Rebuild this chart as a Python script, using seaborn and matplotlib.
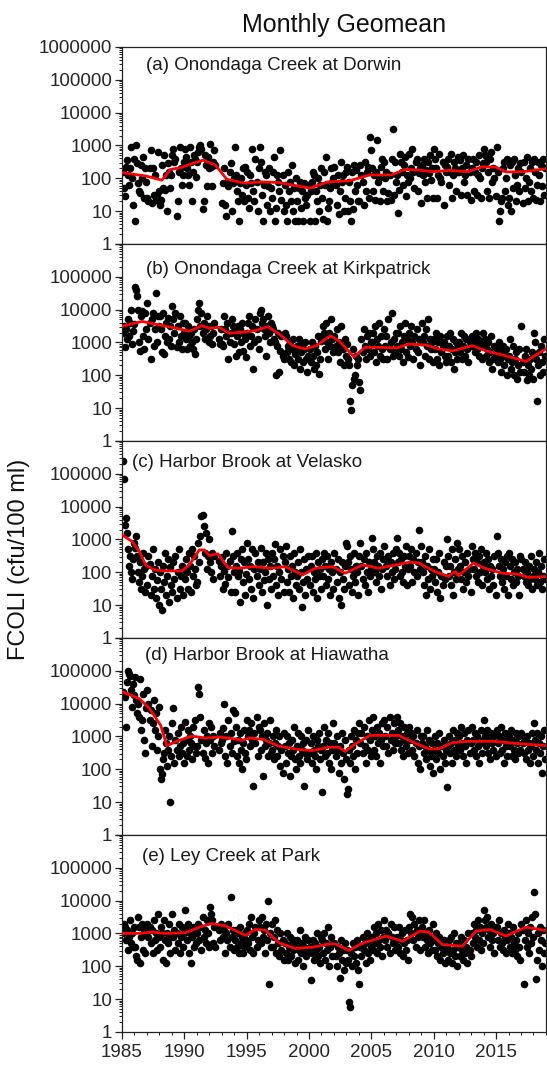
import numpy as np
import pandas as pd
import matplotlib
matplotlib.use("Agg")
import matplotlib.pyplot as plt
import matplotlib.ticker as mticker
import seaborn as sns

nan = float("nan")

# -----------------------------
# DATA (log10 of monthly geomean, cfu/100 ml), 12 values per year 1985-2018
# -----------------------------
years = list(range(1985, 2019))

dorwin = [
    2.2, 1.7, 1.45, 2.35, 2.55, 2.1, 1.8, 2.3, 2.95, 2.0, 1.2, 2.6,
    0.7, 3.0, 2.45, 1.85, 1.6, 1.55, 2.4, 2.0, 2.65, 1.4, 2.3, 1.9,
    1.4, 1.3, 2.3, 2.85, 1.25, 2.3, 1.5, 2.1, 1.35, 1.45, 2.8, 1.6,
    1.2, 1.35, 2.4, 1.7, 2.7, 1.65, 2.1, 1.0, 2.45, 2.2, 1.7, 2.1,
    2.7, 2.9, 2.5, 2.6, 0.85, 1.3, 2.2, 2.95, 2.3, 1.8, 2.1, 2.5,
    2.9, 2.65, 2.3, 2.1, 1.8, 2.95, 2.5, 1.3, 2.2, 2.7, 2.6, 2.05,
    2.5, 2.8, 2.95, 3.0, 2.9, 1.05, 1.3, 2.7, 2.4, 1.75, 2.65, 2.3,
    3.05, 2.35, 1.75, 2.5, 2.85, 2.4, nan, nan, nan, nan, nan, nan,
    1.25, 1.85, 2.3, 1.2, 0.85, 1.9, 1.75, 2.2, 2.45, 1.0, 1.85, 2.0,
    2.95, 2.1, 1.6, 1.3, 0.7, 1.85, 2.0, 1.5, 2.3, 1.3, 2.35, 1.8,
    2.2, 1.4, 1.1, 2.1, 1.85, 2.9, 1.6, 1.3, 2.6, 1.9, 1.0, 2.3,
    2.95, 2.5, 1.5, 0.7, 1.8, 2.2, 2.1, 1.2, 1.75, 2.3, 1.0, 1.7,
    1.4, 2.2, 2.65, 0.7, 1.1, 2.1, 1.9, 1.6, 2.85, 1.35, 2.1, 1.0,
    1.8, 1.2, 0.7, 2.2, 1.6, 1.9, 1.3, 2.4, 1.0, 1.7, 0.7, 2.0,
    1.3, 0.7, 1.7, 1.9, 1.1, 1.6, 0.7, 1.85, 1.4, 1.2, 1.5, 1.8,
    0.7, 1.6, 1.9, 2.2, 2.1, 0.7, 1.6, 1.3, 2.0, 1.0, 1.8, 2.3,
    1.4, 0.75, 2.2, 1.8, 2.65, 0.7, 1.1, 1.3, 1.7, 2.3, 1.9, 2.0,
    2.35, 1.8, 1.2, 2.1, 0.9, 1.6, 2.5, 1.9, 2.1, 1.0, 1.4, 2.2,
    2.35, 1.0, 1.9, 1.3, 0.7, 2.2, 1.05, 2.4, 1.6, 2.25, 1.8, 1.3,
    1.3, 2.4, 2.1, 1.9, 1.2, 2.5, 1.6, 2.2, 2.35, 1.4, 3.25, 2.85,
    2.3, 1.6, 2.1, 1.35, 2.2, 3.15, 1.9, 2.0, 1.3, 2.35, 2.6, 1.6,
    2.5, 2.0, 2.2, 1.3, 1.55, 2.1, 1.35, 2.6, 3.5, 1.5, 2.5, 1.9,
    2.1, 0.95, 1.65, 2.75, 2.5, 2.2, 1.8, 2.4, 2.65, 1.45, 2.1, 1.9,
    2.75, 2.0, 2.3, 2.9, 2.2, 1.7, 2.5, 2.6, 1.6, 2.15, 2.3, 1.25,
    2.4, 2.1, 2.6, 1.9, 2.25, 1.4, 2.5, 2.15, 2.7, 1.95, 2.3, 1.4,
    2.9, 2.6, 2.3, 1.4, 2.1, 2.75, 2.0, 1.9, 2.5, 1.2, 2.4, 2.2,
    2.35, 2.6, 1.8, 2.2, 2.75, 1.4, 2.1, 2.5, 2.3, 1.6, 2.2, 2.65,
    2.2, 2.55, 1.5, 2.3, 2.7, 1.9, 2.1, 2.4, 1.5, 2.6, 2.2, 1.35,
    2.3, 2.6, 1.6, 2.2, 2.5, 1.5, 2.1, 2.7, 2.0, 1.4, 2.3, 2.45,
    2.9, 2.7, 2.5, 1.6, 2.2, 1.4, 2.6, 2.8, 1.9, 2.3, 2.0, 1.45,
    2.95, 2.2, 0.7, 1.0, 1.3, 1.4, 2.3, 2.5, 1.6, 2.0, 2.6, 1.2,
    1.4, 2.4, 1.0, 2.5, 1.7, 2.6, 2.1, 1.3, 1.8, 2.3, 1.6, 2.45,
    2.2, 1.25, 2.5, 1.7, 2.0, 2.65, 1.3, 1.9, 2.3, 1.6, 2.5, 1.4,
    2.6, 2.2, 1.35, 1.8, 2.5, 2.1, 1.3, 2.4, 1.75, 2.6, 1.5, 2.3,
]

kirkpatrick = [
    3.3, 3.5, 2.85, 3.4, 3.1, 3.7, 3.2, 3.6, 4.0, 2.95, 3.35, 3.55,
    4.7, 4.6, 4.4, 4.0, 3.0, 2.75, 3.8, 3.95, 3.2, 2.8, 3.9, 3.4,
    4.2, 3.1, 3.6, 2.5, 3.7, 3.9, 2.9, 3.4, 4.5, 3.0, 3.8, 3.5,
    3.8, 3.4, 2.7, 3.9, 2.65, 3.2, 3.6, 3.0, 3.75, 3.1, 3.5, 2.9,
    4.1, 3.7, 3.3, 3.9, 2.85, 3.5, 3.0, 3.8, 3.2, 2.8, 3.6, 3.3,
    3.6, 3.1, 2.8, 3.5, 3.2, 2.9, 3.3, 3.0, 2.8, 3.4, 2.65, 3.1,
    3.7, 4.0, 4.2, 3.5, 3.9, 3.3, 3.6, 3.1, 3.4, 3.8, 3.5, 3.0,
    3.2, 3.5, 2.95, 3.3, 3.6, nan, nan, nan, nan, 3.1, 2.95, 3.4,
    2.95, 2.9, 3.8, 3.4, 3.2, 3.6, 2.5, 3.0, 3.3, 3.7, 3.5, 2.95,
    3.35, 2.6, 3.2, 3.5, 2.7, 3.4, 3.0, 3.6, 2.75, 3.25, 3.1, 2.55,
    3.3, 3.6, 3.8, 2.9, 3.2, 3.5, 2.2, 3.0, 3.7, 3.4, 3.1, 2.8,
    3.9, 4.0, 3.6, 3.7, 3.4, 3.2, 2.6, 3.5, 3.8, 3.3, 3.0, 3.6,
    3.5, 3.4, 3.1, 3.0, 2.0, 2.9, 3.3, 2.1, 2.75, 3.2, 2.6, 2.5,
    3.3, 3.2, 2.7, 2.9, 2.5, 3.0, 2.4, 2.8, 3.1, 2.3, 2.65, 2.75,
    2.9, 2.5, 3.1, 2.2, 2.7, 2.95, 2.4, 2.8, 3.0, 2.5, 2.1, 2.6,
    2.8, 2.4, 3.0, 2.6, 2.2, 2.9, 2.3, 2.7, 3.2, 2.05, 2.5, 3.05,
    3.2, 3.5, 3.3, 2.8, 3.6, 3.0, 2.5, 3.3, 2.9, 3.7, 3.1, 2.7,
    3.2, 2.9, 3.4, 2.7, 3.0, 2.4, 3.5, 2.9, 2.8, 2.3, 3.1, 2.6,
    2.95, 2.5, 2.3, 1.2, 0.95, 1.7, 2.8, 1.9, 2.0, 2.6, 2.3, 2.5,
    1.8, 1.55, 3.1, 2.7, 3.4, 2.9, 2.5, 3.2, 2.8, 3.3, 2.6, 3.0,
    3.0, 3.3, 2.7, 3.5, 2.4, 3.1, 2.9, 3.6, 2.6, 3.2, 2.8, 2.5,
    3.4, 2.9, 3.2, 2.5, 3.7, 2.8, 3.0, 3.9, 2.6, 3.1, 2.7, 3.3,
    2.9, 3.3, 2.6, 3.5, 2.8, 3.0, 2.4, 3.2, 3.6, 2.7, 3.1, 2.55,
    3.3, 2.9, 3.5, 3.0, 2.5, 3.2, 2.8, 3.4, 2.7, 3.1, 2.3, 3.0,
    3.6, 3.0, 3.2, 2.6, 3.4, 2.9, 3.7, 2.5, 3.1, 2.8, 3.0, 2.4,
    3.1, 2.8, 3.3, 2.5, 3.0, 2.3, 3.2, 2.7, 2.9, 3.0, 2.6, 2.4,
    3.2, 2.6, 2.9, 3.3, 2.4, 2.8, 3.1, 2.2, 2.7, 3.0, 2.5, 2.9,
    3.0, 2.7, 3.3, 2.5, 2.9, 3.2, 2.6, 3.1, 2.8, 2.4, 3.0, 2.9,
    3.2, 2.9, 3.0, 2.7, 3.3, 2.8, 3.1, 2.6, 2.9, 3.0, 2.5, 3.3,
    2.9, 3.1, 2.6, 2.8, 3.0, 2.4, 2.7, 3.2, 2.2, 2.5, 2.9, 2.6,
    2.8, 2.4, 3.0, 2.5, 2.1, 2.7, 2.9, 2.3, 2.6, 2.8, 2.0, 2.5,
    2.6, 3.1, 2.2, 2.4, 2.9, 2.0, 2.5, 2.7, 1.9, 2.3, 2.8, 2.1,
    3.5, 2.4, 2.1, 2.6, 2.8, 1.85, 2.3, 2.0, 2.5, 2.2, 2.7, 1.9,
    3.3, 3.0, 2.5, 1.2, 2.3, 2.7, 2.0, 2.9, 2.4, 2.1, 3.1, 2.6,
]

velasko = [
    5.4, 4.85, 3.45, 3.65, 3.2, 2.7, 2.2, 2.5, 2.0, 1.8, 2.4, 2.9,
    2.75, 3.1, 2.5, 2.0, 1.7, 2.3, 1.5, 1.9, 2.6, 2.1, 1.4, 2.2,
    1.6, 2.5, 2.25, 1.3, 1.9, 2.7, 1.5, 2.1, 1.2, 1.75, 2.3, 1.0,
    2.0, 1.5, 0.85, 2.2, 1.7, 2.6, 1.3, 1.9, 2.4, 1.1, 2.15, 1.6,
    1.4, 2.3, 1.8, 2.5, 1.2, 2.0, 2.7, 1.5, 1.9, 2.2, 1.3, 2.1,
    1.8, 2.4, 2.0, 1.5, 2.6, 2.2, 1.4, 2.7, 1.9, 2.5, 2.1, 1.6,
    1.7, 2.9, 2.3, 3.1, 3.7, 3.75, 3.4, 2.6, 3.2, 2.1, 2.5, 3.0,
    2.3, 2.0, 2.6, 1.8, 2.5, nan, nan, nan, nan, 2.35, 1.9, 2.2,
    2.45, 1.5, 2.05, 1.65, 2.6, 2.2, 1.85, 2.35, 1.4, 3.25, 2.5, 2.0,
    1.4, 2.2, 2.6, 1.9, 2.05, 1.1, 2.4, 2.7, 1.7, 2.3, 1.3, 1.95,
    2.9, 2.4, 1.8, 2.2, 1.5, 2.7, 1.2, 2.1, 2.6, 1.9, 2.3, 1.6,
    2.1, 2.75, 1.4, 2.3, 1.75, 2.0, 2.6, 1.0, 2.4, 1.8, 2.2, 1.5,
    2.6, 1.9, 2.4, 2.85, 1.6, 2.2, 1.3, 2.0, 2.7, 1.8, 2.5, 1.4,
    2.3, 2.8, 1.7, 2.1, 1.4, 2.5, 1.9, 2.2, 1.2, 2.6, 2.0, 1.6,
    1.9, 2.3, 1.5, 2.7, 2.0, 0.95, 1.7, 2.4, 1.3, 2.1, 1.8, 2.5,
    1.6, 2.2, 2.5, 1.4, 2.0, 1.8, 2.6, 1.2, 2.3, 1.9, 2.1, 1.5,
    2.4, 1.9, 2.6, 2.2, 1.6, 2.5, 1.8, 2.1, 1.3, 2.3, 2.0, 1.5,
    2.6, 2.1, 1.7, 2.4, 1.2, 2.0, 1.0, 2.3, 1.8, 1.5, 2.2, 2.9,
    2.8, 2.3, 1.6, 2.5, 2.1, 1.4, 1.9, 2.6, 1.7, 2.2, 2.0, 1.3,
    2.5, 2.9, 2.2, 1.8, 2.4, 1.6, 2.6, 2.0, 1.4, 2.3, 1.9, 2.1,
    3.05, 2.7, 2.3, 2.0, 1.7, 2.5, 2.2, 1.9, 2.6, 1.5, 2.1, 2.4,
    2.8, 2.4, 2.2, 1.9, 2.5, 1.6, 2.3, 2.0, 2.6, 1.8, 2.1, 2.7,
    3.05, 2.3, 2.6, 1.9, 2.4, 2.0, 1.7, 2.5, 2.2, 2.8, 1.6, 2.1,
    2.5, 2.2, 2.7, 1.7, 2.4, 2.0, 2.6, 1.9, 2.3, 3.3, 2.1, 2.8,
    2.3, 2.0, 1.6, 2.5, 1.3, 2.2, 1.8, 2.7, 1.5, 2.1, 1.9, 2.4,
    2.1, 1.7, 2.4, 1.4, 2.0, 2.6, 1.2, 1.9, 1.6, 2.3, 1.8, 2.2,
    3.0, 2.5, 1.9, 2.2, 1.6, 2.7, 1.3, 2.0, 2.4, 1.8, 2.9, 2.1,
    2.7, 2.2, 1.8, 2.5, 1.5, 2.0, 2.3, 1.7, 2.6, 1.9, 2.1, 1.4,
    2.8, 2.4, 2.1, 2.6, 1.9, 2.3, 1.7, 2.5, 2.0, 2.7, 1.6, 2.2,
    2.3, 2.0, 2.6, 1.8, 2.4, 1.5, 2.2, 1.9, 2.1, 1.6, 2.5, 1.3,
    3.1, 2.6, 2.2, 1.9, 2.4, 1.7, 2.1, 1.5, 2.3, 1.9, 2.5, 1.3,
    2.6, 2.2, 1.8, 2.4, 1.6, 2.0, 2.3, 1.7, 2.1, 1.9, 1.3, 2.5,
    2.4, 2.1, 1.9, 2.3, 1.7, 2.0, 1.6, 2.2, 1.8, 2.5, 1.5, 1.9,
    2.1, 1.8, 2.3, 1.6, 2.0, 2.6, 1.7, 2.2, 1.5, 1.9, 2.4, 1.8,
]

hiawatha = [
    4.35, 4.3, 4.2, 3.3, 4.65, 5.0, 4.9, 4.85, 4.4, 3.9, 4.6, 4.25,
    4.8, 4.1, 3.7, 4.0, 3.6, 4.75, 3.2, 3.5, 4.3, 2.9, 2.5, 3.85,
    4.4, 4.0, 3.5, 3.8, 2.7, 3.4, 4.1, 3.2, 3.7, 2.6, 3.0, 3.9,
    2.0, 1.7, 1.85, 2.3, 2.5, 3.2, 2.8, 2.1, 2.6, 3.0, 1.0, 2.4,
    3.4, 3.85, 2.2, 2.9, 2.6, 3.1, 2.4, 2.7, 3.3, 2.5, 2.8, 2.2,
    3.45, 2.9, 2.4, 3.2, 2.6, 3.0, 2.8, 2.3, 3.3, 2.7, 3.5, 2.5,
    2.7, 4.5, 4.3, 3.6, 2.9, 2.5, 3.2, 2.35, 2.8, 3.0, 2.2, 3.4,
    2.9, 3.3, 2.5, 3.0, 2.7, nan, nan, nan, nan, 2.6, 3.1, 2.8,
    2.9, 3.25, 4.0, 2.4, 3.0, 2.2, 3.5, 2.7, 3.1, 2.5, 3.8, 2.85,
    3.7, 3.3, 2.4, 2.9, 2.2, 3.1, 2.6, 2.0, 2.8, 3.2, 2.5, 2.3,
    3.5, 3.0, 3.2, 2.7, 3.4, 2.9, 1.5, 3.1, 2.8, 3.6, 2.4, 3.3,
    3.2, 2.6, 3.0, 1.8, 3.4, 2.7, 2.9, 3.1, 2.4, 2.8, 3.5, 2.5,
    2.6, 3.0, 2.3, 2.8, 3.2, 2.4, 2.7, 3.0, 2.1, 2.6, 1.9, 3.1,
    2.7, 2.2, 3.0, 2.5, 2.8, 1.8, 2.4, 2.9, 2.6, 3.3, 2.3, 2.0,
    2.7, 3.1, 2.4, 2.2, 3.0, 2.6, 2.8, 1.5, 2.5, 2.9, 2.3, 3.2,
    2.5, 2.8, 2.2, 3.0, 2.6, 2.4, 2.0, 2.9, 2.7, 3.1, 2.3, 2.6,
    1.3, 2.7, 3.3, 2.4, 2.9, 2.5, 3.1, 2.2, 2.8, 2.0, 2.6, 3.4,
    2.8, 2.4, 3.0, 2.6, 1.9, 2.7, 2.2, 3.1, 2.5, 1.7, 2.9, 2.3,
    1.25, 1.4, 2.6, 2.2, 3.0, 2.7, 2.4, 3.2, 2.0, 2.9, 2.5, 3.1,
    3.4, 2.8, 3.1, 2.5, 3.3, 2.7, 2.2, 3.0, 2.6, 3.5, 2.9, 2.4,
    3.2, 3.6, 2.6, 3.0, 2.4, 3.3, 2.8, 3.1, 2.2, 2.9, 3.4, 2.7,
    3.5, 3.0, 2.7, 3.3, 2.5, 3.6, 2.9, 3.1, 2.6, 3.4, 2.8, 3.0,
    3.6, 3.2, 2.8, 3.4, 2.6, 3.0, 2.4, 3.3, 2.9, 2.7, 3.1, 2.5,
    3.3, 2.9, 3.1, 2.6, 3.0, 2.4, 2.8, 3.2, 2.2, 2.7, 2.0, 3.0,
    2.8, 3.0, 2.5, 2.7, 2.3, 3.2, 2.6, 2.9, 2.1, 2.4, 2.8, 1.9,
    2.6, 3.0, 2.3, 2.8, 2.5, 3.1, 2.0, 2.7, 2.4, 2.9, 2.2, 2.6,
    1.45, 2.7, 3.0, 2.5, 2.8, 2.2, 3.2, 2.6, 2.9, 2.4, 3.1, 2.7,
    3.0, 2.6, 3.3, 2.8, 2.4, 3.1, 2.7, 2.2, 2.9, 3.2, 2.5, 2.8,
    3.3, 2.9, 2.6, 3.1, 2.4, 3.0, 2.7, 2.2, 2.8, 3.2, 2.5, 2.9,
    3.5, 3.0, 2.7, 3.2, 2.5, 2.9, 2.3, 3.1, 2.8, 2.6, 3.0, 2.4,
    3.2, 2.8, 3.0, 2.5, 3.3, 2.6, 2.9, 2.2, 3.1, 2.7, 2.4, 2.9,
    3.0, 2.7, 3.2, 2.4, 2.9, 2.6, 2.3, 3.1, 2.8, 2.5, 3.0, 2.6,
    3.1, 2.8, 2.5, 2.9, 2.3, 3.0, 2.6, 2.8, 2.2, 2.7, 3.1, 2.4,
    3.4, 2.9, 2.6, 3.1, 2.2, 2.8, 2.5, 3.0, 1.9, 2.7, 3.2, 2.3,
]

ley_park = [
    3.0, 3.3, 3.2, 2.8, 3.1, 2.5, 2.9, 3.4, 2.7, 3.0, 2.6, 3.2,
    2.6, 2.3, 2.2, 3.5, 3.2, 2.1, 2.9, 3.3, 2.5, 3.1, 2.4, 3.0,
    3.3, 2.9, 3.2, 2.7, 3.1, 2.4, 3.4, 2.8, 3.0, 2.5, 3.6, 2.9,
    2.6, 3.2, 3.0, 2.2, 3.4, 2.8, 2.1, 3.0, 2.7, 3.3, 2.4, 2.9,
    3.6, 2.9, 3.1, 2.5, 3.0, 2.7, 3.3, 2.4, 2.9, 3.2, 2.6, 3.0,
    3.7, 3.1, 2.8, 3.3, 2.4, 3.0, 2.1, 2.9, 3.2, 2.6, 3.0, 2.7,
    3.0, 3.3, 2.8, 3.2, 2.5, 3.5, 2.9, 3.1, 2.7, 3.4, 3.0, 2.6,
    3.8, 3.6, 3.4, 2.7, 3.2, 2.6, nan, nan, nan, 3.1, 2.8, 3.3,
    3.2, 2.9, 3.1, 2.4, 3.0, 2.8, 3.3, 2.6, 4.12, 2.9, 3.1, 2.5,
    2.8, 3.1, 2.6, 3.0, 2.4, 3.2, 2.7, 2.9, 2.4, 2.6, 3.0, 2.8,
    3.1, 2.7, 3.3, 2.5, 3.5, 2.9, 2.4, 3.0, 3.2, 2.6, 2.8, 3.4,
    3.2, 2.7, 3.5, 2.9, 3.1, 2.4, 3.3, 2.8, 4.0, 1.46, 3.0, 2.6,
    3.3, 2.6, 2.9, 3.4, 2.4, 3.1, 2.7, 2.3, 3.0, 2.5, 2.8, 2.2,
    2.7, 2.4, 3.0, 2.2, 2.6, 2.9, 2.3, 2.7, 2.5, 2.8, 2.1, 2.6,
    2.8, 2.2, 2.5, 3.1, 2.4, 2.7, 2.0, 2.6, 2.9, 2.3, 2.5, 2.8,
    2.6, 1.58, 2.4, 2.8, 2.2, 2.7, 2.5, 3.0, 2.3, 2.6, 2.1, 2.9,
    2.8, 2.4, 3.0, 2.2, 2.7, 2.5, 3.2, 2.0, 2.6, 2.9, 2.3, 2.7,
    2.7, 2.3, 2.0, 2.6, 2.4, 1.65, 2.8, 2.2, 2.5, 1.9, 2.7, 2.1,
    2.5, 2.2, 0.9, 0.75, 2.4, 2.0, 2.7, 2.3, 2.6, 2.1, 2.8, 1.9,
    1.46, 2.6, 2.3, 2.9, 2.5, 2.7, 2.1, 3.0, 2.4, 2.8, 2.2, 2.6,
    2.9, 2.5, 3.2, 2.7, 3.0, 2.4, 3.3, 2.8, 2.6, 3.1, 2.3, 2.9,
    3.4, 2.8, 3.1, 2.6, 3.0, 2.4, 3.3, 2.9, 2.7, 3.2, 2.5, 2.8,
    2.9, 2.6, 3.2, 2.4, 2.8, 3.0, 2.3, 2.7, 3.1, 2.5, 2.8, 2.2,
    3.2, 3.6, 3.0, 3.5, 2.8, 3.3, 2.6, 3.1, 2.9, 3.4, 2.5, 3.0,
    3.2, 2.9, 3.4, 2.6, 3.0, 2.8, 2.4, 3.1, 2.7, 2.9, 2.5, 3.3,
    2.8, 2.5, 3.0, 2.3, 2.7, 2.9, 2.2, 2.6, 2.4, 2.8, 2.1, 2.5,
    2.6, 2.2, 2.8, 2.4, 2.9, 2.1, 2.5, 3.0, 2.3, 2.7, 2.0, 2.6,
    2.7, 2.3, 2.9, 2.5, 2.2, 2.8, 2.4, 2.6, 2.1, 3.0, 2.5, 2.3,
    3.0, 2.7, 3.3, 2.9, 3.1, 2.6, 3.4, 2.8, 3.2, 2.5, 3.0, 2.7,
    3.7, 3.4, 3.2, 3.5, 2.9, 3.1, 2.6, 3.3, 2.8, 3.0, 2.4, 3.2,
    3.2, 2.8, 3.4, 2.6, 3.0, 2.7, 2.5, 3.1, 2.9, 2.4, 2.8, 3.3,
    3.0, 2.6, 2.9, 2.4, 3.2, 2.7, 2.5, 2.8, 2.3, 3.0, 2.6, 2.2,
    3.3, 3.1, 1.46, 2.8, 3.4, 2.6, 3.0, 2.4, 3.2, 2.7, 3.5, 2.9,
    4.25, 3.6, 1.6, 2.2, 3.0, 2.5, 3.2, 2.8, 2.0, 3.1, 2.4, 2.7,
]

# smoothed trend (red line), read at knots: decimal year / log10 value
dorwin_trend_yr = [1985, 1986.9, 1988.2, 1988.9, 1989.7, 1990.8, 1991.5, 1992.5, 1993.4,
                   1994.8, 1996.2, 1997.6, 1999.0, 2000.1, 2001.5, 2003.2, 2004.9, 2006.6,
                   2007.7, 2008.8, 2009.9, 2011.3, 2012.75, 2013.9, 2015.0, 2015.8, 2017.2, 2019]
dorwin_trend = [2.17, 2.07, 1.94, 2.27, 2.32, 2.47, 2.55, 2.4, 1.97, 1.85, 1.89, 1.87, 1.77, 1.7,
                1.89, 1.92, 2.1, 2.1, 2.27, 2.25, 2.2, 2.24, 2.2, 2.35, 2.34, 2.19, 2.2, 2.29]

kirk_trend_yr = [1985, 1986.6, 1988.0, 1989.0, 1990.4, 1991.4, 1992.0, 1992.8, 1993.6, 1994.9,
                 1995.7, 1996.7, 1997.6, 1998.7, 1999.7, 2000.6, 2001.7, 2002.4, 2003.6, 2004.5,
                 2005.6, 2007.0, 2008.0, 2009.4, 2010.4, 2011.5, 2013.1, 2014.2, 2015.8, 2017.4,
                 2018.2, 2019]
kirk_trend = [3.49, 3.64, 3.53, 3.46, 3.34, 3.51, 3.43, 3.46, 3.28, 3.32, 3.36, 3.48, 3.26, 2.9,
              2.8, 2.9, 3.2, 3.05, 2.56, 2.85, 2.85, 2.83, 2.95, 2.92, 2.8, 2.74, 2.9, 2.74, 2.59,
              2.42, 2.62, 2.8]

velasko_trend_yr = [1985, 1985.8, 1986.4, 1986.9, 1987.6, 1988.5, 1989.8, 1990.4, 1991.2, 1991.6,
                    1992.0, 1992.7, 1993.5, 1994.4, 1995.5, 1997.0, 1998.1, 1999.5, 2000.5, 2001.9,
                    2002.9, 2004.3, 2005.6, 2006.9, 2008.1, 2008.8, 2010.1, 2011.2, 2011.7, 2012.0,
                    2013.2, 2014.1, 2015.5, 2016.8, 2017.6, 2019]
velasko_trend = [3.14, 2.94, 2.63, 2.22, 2.07, 2.04, 2.04, 2.22, 2.68, 2.68, 2.51, 2.56, 2.14,
                 2.12, 2.17, 2.12, 2.17, 1.92, 2.12, 2.17, 1.97, 2.22, 2.12, 2.22, 2.31, 2.28,
                 2.02, 1.87, 2.02, 1.9, 2.28, 2.12, 1.97, 1.94, 1.84, 1.87]

hiawatha_trend_yr = [1985, 1986.4, 1987.2, 1988.1, 1988.6, 1989.6, 1990.6, 1991.7, 1992.8, 1993.9,
                     1994.6, 1995.2, 1996.3, 1997.6, 1999.2, 2000.3, 2001.6, 2002.4, 2002.9,
                     2003.7, 2004.9, 2007.2, 2008.3, 2009.6, 2010.4, 2011.5, 2012.8, 2014.7,
                     2016.8, 2019]
hiawatha_trend = [4.36, 4.15, 3.85, 3.34, 2.72, 2.88, 3.01, 2.95, 2.98, 2.93, 2.88, 2.95, 2.91,
                  2.7, 2.6, 2.57, 2.67, 2.67, 2.54, 2.77, 3.03, 3.03, 2.83, 2.62, 2.62, 2.81, 2.85,
                  2.85, 2.78, 2.72]

park_trend_yr = [1985, 1986.4, 1987.4, 1988.5, 1990.1, 1991.2, 1992.2, 1993.3, 1994.9, 1995.7,
                 1996.5, 1997.6, 1998.9, 2000.3, 2001.6, 2002.1, 2003.2, 2004.3, 2006.2, 2007.5,
                 2008.9, 2009.6, 2010.7, 2012.3, 2013.4, 2014.5, 2015.8, 2017.4, 2019]
park_trend = [3.0, 3.0, 3.04, 3.0, 3.02, 3.19, 3.3, 3.23, 2.94, 3.12, 3.1, 2.71, 2.54, 2.58, 2.68,
              2.68, 2.48, 2.7, 2.92, 2.76, 3.07, 3.04, 2.66, 2.61, 3.07, 3.12, 2.92, 3.19, 3.09]

panels = [
    ("(a) Onondaga Creek at Dorwin", dorwin, dorwin_trend_yr, dorwin_trend, 0.057, 0.904),
    ("(b) Onondaga Creek at Kirkpatrick", kirkpatrick, kirk_trend_yr, kirk_trend, 0.057, 0.868),
    ("(c) Harbor Brook at Velasko", velasko, velasko_trend_yr, velasko_trend, 0.024, 0.888),
    ("(d) Harbor Brook at Hiawatha", hiawatha, hiawatha_trend_yr, hiawatha_trend, 0.054, 0.909),
    ("(e) Ley Creek at Park", ley_park, park_trend_yr, park_trend, 0.047, 0.888),
]

# monthly positions (mid-month, decimal year)
month_x = (np.repeat(years, 12) + (np.tile(np.arange(12), len(years)) + 0.5) / 12.0)

# -----------------------------
# PLOT
# -----------------------------
sns.set_theme(style="ticks")
plt.rcParams["font.family"] = ["Liberation Sans", "DejaVu Sans"]
plt.rcParams["axes.edgecolor"] = "#222222"
plt.rcParams["axes.linewidth"] = 0.9

fig, axes = plt.subplots(5, 1, figsize=(5.47, 10.66), dpi=100, sharex=True)
fig.subplots_adjust(left=0.223, right=0.998, top=0.956, bottom=0.032, hspace=0)


def y_fmt(top):
    def f(v, pos):
        if v >= 1e6 and not top:
            return ""
        return f"{int(round(v))}"
    return f


for i, (label, vals, t_yr, t_val, lx, ly) in enumerate(panels):
    ax = axes[i]
    df = pd.DataFrame({"x": month_x, "y": np.power(10.0, vals)}).dropna()
    tr = pd.DataFrame({"x": t_yr, "y": np.power(10.0, t_val)})

    sns.scatterplot(data=df, x="x", y="y", color="black", s=30,
                    linewidth=0, ax=ax, zorder=2)
    sns.lineplot(data=tr, x="x", y="y", color="red", linewidth=2.0,
                 ax=ax, zorder=3)

    ax.set_yscale("log")
    ax.set_ylim(1, 1e6)
    ax.set_xlim(1985, 2019)
    ax.yaxis.set_major_locator(mticker.FixedLocator([1, 10, 100, 1e3, 1e4, 1e5, 1e6]))
    ax.yaxis.set_minor_locator(mticker.LogLocator(base=10, subs=range(2, 10), numticks=20))
    ax.yaxis.set_minor_formatter(mticker.NullFormatter())
    ax.yaxis.set_major_formatter(mticker.FuncFormatter(y_fmt(i == 0)))

    ax.xaxis.set_major_locator(mticker.MultipleLocator(5))
    ax.xaxis.set_minor_locator(mticker.MultipleLocator(1))

    ax.tick_params(axis="both", which="major", direction="out", length=5,
                   width=0.9, labelsize=13.5, color="#222222", pad=2)
    ax.tick_params(axis="both", which="minor", direction="out", length=2.5,
                   width=0.7, color="#222222")
    ax.set_xlabel("")
    ax.set_ylabel("")
    for s in ax.spines.values():
        s.set_visible(True)

    ax.text(lx, ly, label, transform=ax.transAxes, ha="left", va="center",
            fontsize=13.5, color="#1a1a1a")

axes[-1].tick_params(axis="x", labelsize=13.5, pad=4)

fig.text(0.629, 0.977, "Monthly Geomean", ha="center", va="center",
         fontsize=18, color="#111111")
fig.text(0.035, 0.475, "FCOLI (cfu/100 ml)", rotation=90, ha="center",
         va="center", fontsize=17, color="#111111")

plt.savefig("out.png", dpi=100, facecolor="white")
